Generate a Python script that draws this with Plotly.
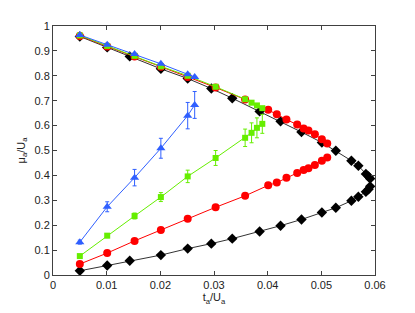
import plotly.graph_objects as go

# Black diamonds (continuous curve: upper branch then lower branch)
t_black = [0.005, 0.0101, 0.0143, 0.0201, 0.0251, 0.0295, 0.0334, 0.0385, 0.0424,
           0.0463, 0.0501, 0.0527, 0.0556, 0.0569, 0.0583, 0.0588, 0.0591]
mu_black_up = [0.958, 0.914, 0.878, 0.828, 0.789, 0.749, 0.710, 0.657, 0.617,
               0.574, 0.532, 0.499, 0.459, 0.439, 0.406, 0.396, 0.387]
mu_black_lo = [0.017, 0.038, 0.057, 0.080, 0.106, 0.126, 0.146, 0.175, 0.198,
               0.223, 0.251, 0.270, 0.298, 0.314, 0.334, 0.344, 0.356]

# Red circles
t_red = [0.005, 0.0101, 0.0152, 0.0201, 0.0251, 0.0303, 0.0358, 0.0401, 0.0417,
         0.0435, 0.0455, 0.0467, 0.0476, 0.0488, 0.0501, 0.0511]
mu_red_up = [0.960, 0.918, 0.878, 0.836, 0.795, 0.753, 0.705, 0.664, 0.646,
             0.624, 0.604, 0.588, 0.580, 0.565, 0.545, 0.528]
mu_red_lo = [0.044, 0.088, 0.137, 0.181, 0.226, 0.272, 0.318, 0.360, 0.371,
             0.391, 0.410, 0.422, 0.429, 0.442, 0.459, 0.472]

# Green squares
t_green = [0.005, 0.0101, 0.0152, 0.0201, 0.0251, 0.0303, 0.0358, 0.0370, 0.0380, 0.0390]
mu_green_up = [0.962, 0.920, 0.880, 0.838, 0.800, 0.756, 0.706, 0.692, 0.681, 0.670]
mu_green_lo = [0.076, 0.158, 0.237, 0.313, 0.396, 0.470, 0.551, 0.571, 0.591, 0.607]
err_green = [0.005, 0.008, 0.012, 0.018, 0.025, 0.030, 0.035, 0.040, 0.040, 0.038]

# Blue triangles
t_blue = [0.005, 0.0101, 0.0152, 0.0201, 0.0251, 0.0264]
mu_blue_up = [0.964, 0.925, 0.888, 0.848, 0.806, 0.795]
mu_blue_lo = [0.132, 0.274, 0.391, 0.509, 0.640, 0.683]
err_blue = [0.008, 0.020, 0.033, 0.040, 0.053, 0.054]

x_ticks = [0, 0.01, 0.02, 0.03, 0.04, 0.05, 0.06]
x_tick_labels = ["0", "0.01", "0.02", "0.03", "0.04", "0.05", "0.06"]
y_ticks = [0, 0.1, 0.2, 0.3, 0.4, 0.5, 0.6, 0.7, 0.8, 0.9, 1]
y_tick_labels = ["0", "0.1", "0.2", "0.3", "0.4", "0.5", "0.6", "0.7", "0.8", "0.9", "1"]

BLACK = "#000000"
RED = "#ff0000"
GREEN = "#66ee00"
BLUE = "#2f5fff"

fig = go.Figure()

def add(x, y, color, symbol, size, err=None, line_color=None):
    kw = {}
    if err is not None:
        kw["error_y"] = dict(type="data", array=err, visible=True, color=color,
                             thickness=1, width=2)
    fig.add_trace(go.Scatter(
        x=x, y=y, mode="lines+markers",
        line=dict(color=line_color or color, width=1),
        marker=dict(color=color, symbol=symbol, size=size, line=dict(width=0)),
        showlegend=False, **kw))

# black: upper branch then lower branch reversed (one continuous curve)
add(t_black + t_black[::-1], mu_black_up + mu_black_lo[::-1], BLACK, "diamond", 8,
    line_color="#333333")
add(t_red, mu_red_up, RED, "circle", 8)
add(t_red, mu_red_lo, RED, "circle", 8)
add(t_green, mu_green_up, GREEN, "square", 6)
add(t_green, mu_green_lo, GREEN, "square", 6, err=err_green)
add(t_blue, mu_blue_up, BLUE, "triangle-up", 8)
add(t_blue, mu_blue_lo, BLUE, "triangle-up", 8, err=err_blue)

FONT = dict(family="Liberation Sans", size=11, color="#222222")
axis_common = dict(showgrid=False, zeroline=False, showline=True, linecolor="#404040",
                   linewidth=1, mirror="allticks", ticks="inside", ticklen=4,
                   tickcolor="#404040", tickfont=FONT)

fig.update_xaxes(range=[0, 0.06], tickvals=x_ticks, ticktext=x_tick_labels,
                 title=dict(text="t<sub>a</sub>/U<sub>a</sub>", standoff=0, font=FONT),
                 **axis_common)
fig.update_yaxes(range=[0, 1], tickvals=y_ticks, ticktext=y_tick_labels,
                 title=dict(text="μ<sub>a</sub>/U<sub>a</sub>", standoff=6, font=FONT),
                 **axis_common)

# page body has an 8px margin, so the figure is sized and offset to compensate
fig.update_layout(width=405, height=303, paper_bgcolor="white", plot_bgcolor="white",
                  margin=dict(l=45, r=38, t=15, b=35), showlegend=False)

fig.write_html("out.html")
